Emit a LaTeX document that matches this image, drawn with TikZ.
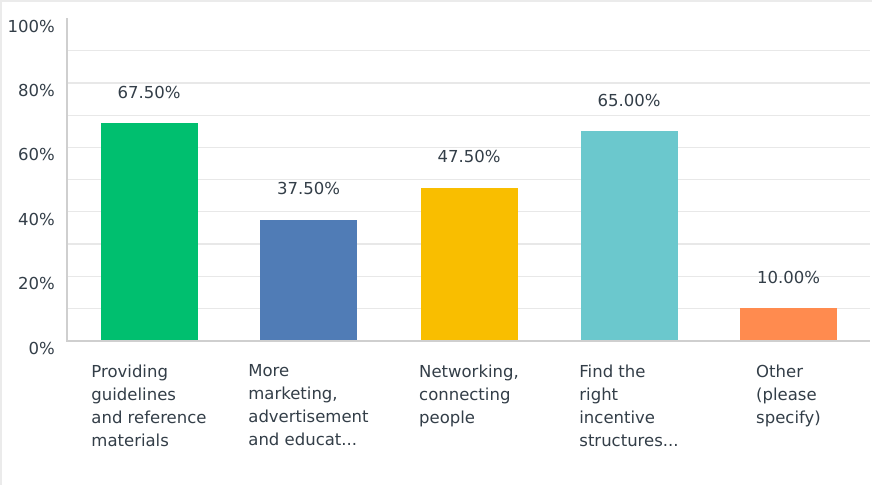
\documentclass[tikz,border=0pt]{standalone}
\usepackage{fontspec}
\setmainfont{DejaVu Sans}
\definecolor{txt}{HTML}{333E48}
\definecolor{grid}{HTML}{E8E8E8}
\definecolor{axisc}{HTML}{CFCFCF}
\definecolor{frame}{HTML}{EBEBEB}
\definecolor{cgreen}{HTML}{00BF6F}
\definecolor{cblue}{HTML}{507CB6}
\definecolor{cyellow}{HTML}{F9BE00}
\definecolor{cteal}{HTML}{6BC8CD}
\definecolor{corange}{HTML}{FF8B4F}
\begin{document}
\begin{tikzpicture}[x=1pt,y=-1pt,
  every node/.style={text=txt,font=\fontsize{16.5}{23}\selectfont,inner sep=0pt},
  ylab/.style={anchor=base east},
  vallab/.style={anchor=base},
  catlab/.style={anchor=north,align=left},
  gridl/.style={draw=grid,line width=1.2pt},
  axisl/.style={draw=axisc,line width=1.6pt}]
\useasboundingbox (0,0) rectangle (872,485);
\fill[white] (0,0) rectangle (872,485);
\fill[frame] (0,0) rectangle (872,1.8);
\fill[frame] (0,0) rectangle (2,485);
% gridlines
\foreach \k in {1,...,9}{
  \draw[gridl] (67,{340.5-32.2*\k}) -- (870,{340.5-32.2*\k});
}
% bars
\def\bw{97}
\fill[cgreen]  (100.5,340.5) rectangle ++(\bw,{-3.22*67.5});
\fill[cblue]   (260,340.5) rectangle ++(\bw,{-3.22*37.5});
\fill[cyellow] (420.5,340.5) rectangle ++(\bw,{-3.22*47.5});
\fill[cteal]   (580.5,340.5) rectangle ++(\bw,{-3.22*65});
\fill[corange] (740,340.5) rectangle ++(\bw,{-3.22*10});
% axes
\draw[axisl] (67,18) -- (67,341);
\draw[axisl] (66.2,341) -- (870,341);
% y labels
\foreach \k/\t in {0/0\%,2/20\%,4/40\%,6/60\%,8/80\%,10/100\%}{
  \node[ylab] (y\k) at (55,{340.5-32.2*\k+13.5}) {\t};
}
% value labels
\node[vallab] (v1) at (149,{340.5-3.22*67.5-25}) {67.50\%};
\node[vallab] (v2) at (308.5,{340.5-3.22*37.5-25}) {37.50\%};
\node[vallab] (v3) at (469,{340.5-3.22*47.5-25}) {47.50\%};
\node[vallab] (v4) at (629,{340.5-3.22*65-25}) {65.00\%};
\node[vallab] (v5) at (788.5,{340.5-3.22*10-25}) {10.00\%};
% category labels
\node[catlab] (c1) at (149,364.5) {Providing\\guidelines\\and reference\\materials};
\node[catlab] (c2) at (308.5,364.5) {More\\marketing,\\advertisement\\and educat...};
\node[catlab] (c3) at (469,364.5) {Networking,\\connecting\\people};
\node[catlab] (c4) at (629,364.5) {Find the\\right\\incentive\\structures...};
\node[catlab] (c5) at (788.5,364.5) {Other\\(please\\specify)};
\end{tikzpicture}
\end{document}
